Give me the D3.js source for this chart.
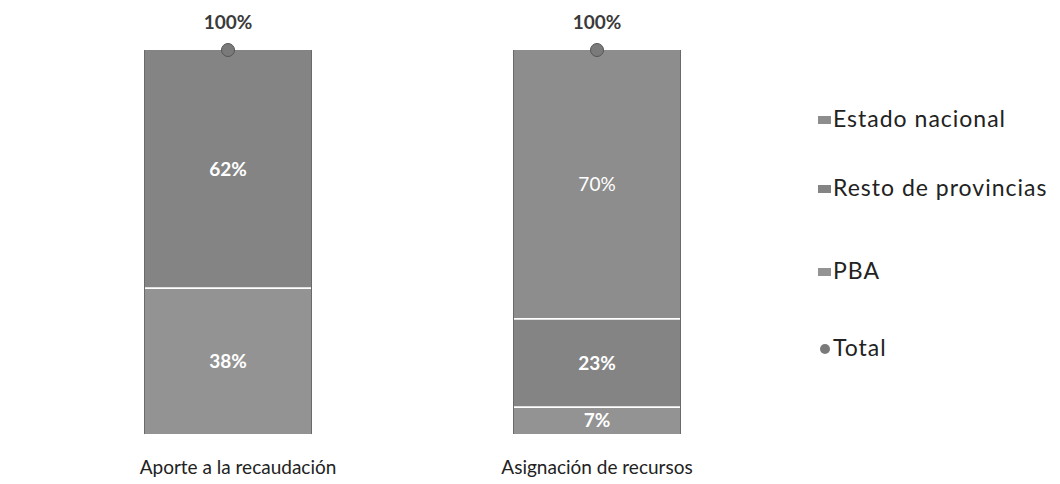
<!DOCTYPE html>
<html><head><meta charset="utf-8">
<script src="https://cdn.jsdelivr.net/npm/d3@7"></script>
<style>
html,body{margin:0;padding:0;background:#fff;}
svg{display:block;}
</style></head>
<body>
<svg id="chart" width="1060" height="484"></svg>
<script>
const categories = ["Aporte a la recaudación", "Asignación de recursos"];
const seriesNames = ["PBA", "Resto de provincias", "Estado nacional"];
const pba = [38, 7];
const restoProvincias = [62, 23];
const estadoNacional = [0, 70];
const total = [100, 100];
const legendLabels = ["Estado nacional", "Resto de provincias", "PBA", "Total"];

const colors = {"Estado nacional": "#8d8d8d", "Resto de provincias": "#848484", "PBA": "#939393"};
const labelWeight = {"Estado nacional": 400, "Resto de provincias": 700, "PBA": 700};
const FONT = "Lato, 'Open Sans', sans-serif";

const rows = categories.map((c, i) => ({
  cat: c, "PBA": pba[i], "Resto de provincias": restoProvincias[i], "Estado nacional": estadoNacional[i], total: total[i]
}));

const svg = d3.select("#chart");
const x = d3.scalePoint().domain(categories).range([228, 597]);
const barW = 167;
const y = d3.scaleLinear().domain([0, 100]).range([434, 50]);

const stacked = d3.stack().keys(seriesNames)(rows);

const g = svg.append("g");
stacked.forEach(layer => {
  const key = layer.key;
  layer.forEach((d, i) => {
    if (d[1] - d[0] <= 0) return;
    const cx = x(rows[i].cat);
    g.append("rect")
      .attr("x", cx - barW / 2)
      .attr("y", y(d[1]))
      .attr("width", barW)
      .attr("height", y(d[0]) - y(d[1]))
      .attr("fill", colors[key]);
  });
});

// white separators between segments
stacked.forEach((layer, li) => {
  if (li === 0) return;
  layer.forEach((d, i) => {
    if (d[1] - d[0] <= 0) return;
    const cx = x(rows[i].cat);
    g.append("line")
      .attr("x1", cx - barW / 2).attr("x2", cx + barW / 2)
      .attr("y1", y(d[0])).attr("y2", y(d[0]))
      .attr("stroke", "#fff").attr("stroke-width", 1.8);
  });
});

// data labels
stacked.forEach(layer => {
  const key = layer.key;
  layer.forEach((d, i) => {
    if (d[1] - d[0] <= 0) return;
    const cx = x(rows[i].cat);
    g.append("text")
      .attr("x", cx)
      .attr("y", (y(d[0]) + y(d[1])) / 2)
      .attr("dy", "0.35em")
      .attr("text-anchor", "middle")
      .attr("fill", "#fff")
      .attr("font-family", FONT)
      .attr("font-size", 19)
      .attr("font-weight", labelWeight[key])
      .text(rows[i][key] + "%");
  });
});

// side edges
rows.forEach(r => {
  const cx = x(r.cat);
  [cx - barW / 2, cx + barW / 2].forEach(ex => {
    g.append("line").attr("x1", ex).attr("x2", ex).attr("y1", y(100)).attr("y2", y(0))
      .attr("stroke", "#6a6a6a").attr("stroke-width", 1);
  });
});

// total dots and labels
rows.forEach(r => {
  const cx = x(r.cat);
  g.append("circle").attr("cx", cx).attr("cy", y(r.total)).attr("r", 6.5)
    .attr("fill", "#7a7a7a").attr("stroke", "#555").attr("stroke-width", 1);
  g.append("text").attr("x", cx).attr("y", y(r.total) - 28)
    .attr("text-anchor", "middle").attr("dy", "0.35em")
    .attr("font-family", FONT).attr("font-size", 19).attr("font-weight", 700)
    .attr("fill", "#3a3a3a").text(r.total + "%");
});

// category axis labels
const catOffset = [10, 0];
rows.forEach((r, i) => {
  g.append("text").attr("x", x(r.cat) + catOffset[i]).attr("y", 467)
    .attr("text-anchor", "middle").attr("dy", "0.35em")
    .attr("font-family", FONT).attr("font-size", 19)
    .attr("fill", "#222").text(r.cat);
});

// legend
const legY = [119, 188, 271, 348];
const lg = svg.append("g");
legendLabels.forEach((name, i) => {
  const yy = legY[i];
  if (name === "Total") {
    lg.append("circle").attr("cx", 825).attr("cy", yy + 1).attr("r", 5).attr("fill", "#7a7a7a");
  } else {
    lg.append("rect").attr("x", 818).attr("y", yy - 3).attr("width", 13).attr("height", 8).attr("fill", colors[name]);
  }
  lg.append("text").attr("x", 833).attr("y", yy).attr("dy", "0.35em")
    .attr("font-family", FONT).attr("font-size", 23).attr("letter-spacing", 1)
    .attr("fill", "#222").text(name);
});
</script>
</body></html>
